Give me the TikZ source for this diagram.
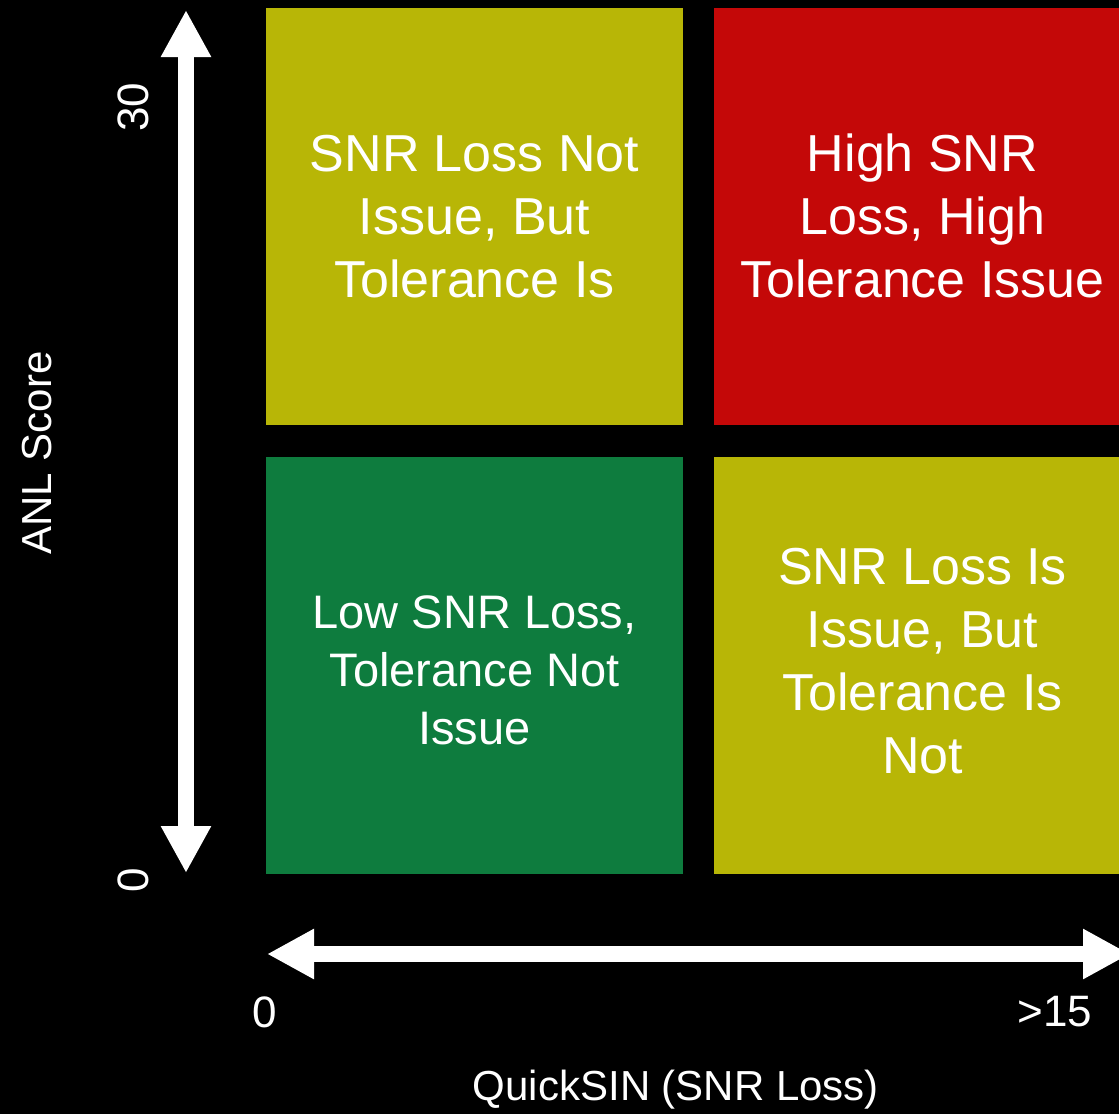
\documentclass[tikz,border=0pt]{standalone}
\usepackage{fontspec}
\setmainfont{Liberation Sans}
\usepackage{tikz}
\usetikzlibrary{arrows.meta}

\definecolor{tolyellow}{RGB}{184,182,6}
\definecolor{tolred}{RGB}{196,8,8}
\definecolor{tolgreen}{RGB}{14,124,62}

\begin{document}
\begin{tikzpicture}
	[
		x = 1pt, y = -1pt,
		quad/.style = {minimum width=417pt, minimum height=417pt, inner sep=0pt},
		quadtext/.style = {inner sep=0pt, align=center, text=white, font=\fontsize{52}{63}\selectfont},
		axisarrow/.style = {white, line width=16pt, {Triangle[length=47pt,width=47pt]}-{Triangle[length=47pt,width=47pt]}},
		axislabel/.style = {text=white, inner sep=0pt, font=\fontsize{42}{50}\selectfont},
	]

  \fill[black] (0,0) rectangle (1119,1114);
  \useasboundingbox (0,0) rectangle (1119,1114);

  % quadrants
  \node[quad, fill=tolyellow] (hightol) at (474.5,216.5) {};
  \node[quad, fill=tolred, minimum width=405pt] (highboth) at (916.5,216.5) {};
  \node[quad, fill=tolgreen] (lowboth) at (474.5,665) {};
  \node[quad, fill=tolyellow, minimum width=405pt] (highsnr) at (916.5,665) {};

  \node[quadtext] (hightoltext) at (hightol) {SNR Loss Not\\Issue, But\\Tolerance Is};
  \node[quadtext, xshift=6pt, yshift=1pt] (highbothtext) at (highboth) {High SNR\\Loss, High\\Tolerance Issue};
  \node[quadtext, yshift=-5pt, font=\fontsize{47}{58}\selectfont] (lowbothtext) at (lowboth) {Low SNR Loss,\\Tolerance Not\\Issue};
  \node[quadtext, xshift=6pt, yshift=4pt] (highsnrtext) at (highsnr) {SNR Loss Is\\Issue, But\\Tolerance Is\\Not};

  % axes
  \coordinate (ytop) at (186,10);
  \coordinate (ybot) at (186,873);
  \coordinate (xleft) at (267,954);
  \coordinate (xright) at (1130,954);
  \draw[axisarrow] (ybot) -- (ytop);
  \draw[axisarrow] (xleft) -- (xright);

  \node[axislabel, rotate=90, font=\fontsize{44}{50}\selectfont] (ymax) at (133,107) {30};
  \node[axislabel, rotate=90, font=\fontsize{44}{50}\selectfont] (ymin) at (133,880) {0};
  \node[axislabel, rotate=90] (ytitle) at (37,453) {ANL Score};
  \node[axislabel, font=\fontsize{44}{50}\selectfont] (xmin) at (265,1012) {0};
  \node[axislabel, font=\fontsize{44}{50}\selectfont] (xmax) at (1055,1012) {>15};
  \node[axislabel] (xtitle) at (676,1090) {QuickSIN (SNR Loss)};

\end{tikzpicture}
\end{document}
